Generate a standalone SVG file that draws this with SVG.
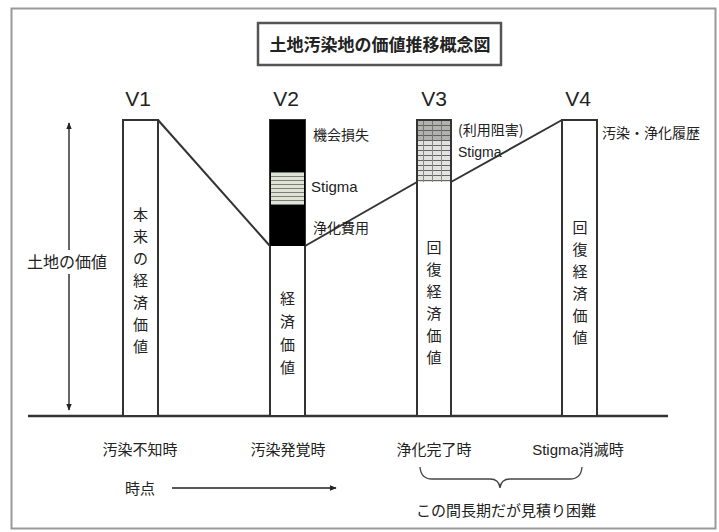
<svg xmlns="http://www.w3.org/2000/svg" width="719" height="532" viewBox="0 0 719 532">
<style>
text{font-family:"Liberation Sans","Noto Sans CJK JP",sans-serif;fill:#222}
.jp{font-family:"Noto Sans CJK JP",sans-serif;font-size:14px}
.v{font-family:"Liberation Sans",sans-serif;font-size:21px}
.vt{font-family:"Noto Sans CJK JP",sans-serif;font-size:15px;text-anchor:middle}
.bar{fill:#fff;stroke:#333;stroke-width:2}
.ln{stroke:#333;stroke-width:2;fill:none}
</style>
<defs>
<pattern id="stig" width="8" height="4" patternUnits="userSpaceOnUse">
<rect width="8" height="4" fill="#dfe3d6"/>
<line x1="0" y1="0.5" x2="8" y2="0.5" stroke="#7a7f78" stroke-width="1"/>
</pattern>
<pattern id="grid" width="9" height="5" patternUnits="userSpaceOnUse">
<rect width="9" height="5" fill="#e2e2e0"/>
<line x1="0" y1="0.5" x2="9" y2="0.5" stroke="#666" stroke-width="1"/>
<line x1="0.5" y1="0" x2="0.5" y2="5" stroke="#888" stroke-width="1"/>
</pattern>
<marker id="ah" viewBox="0 0 10 10" refX="9" refY="5" markerWidth="7" markerHeight="7" orient="auto-start-reverse" markerUnits="userSpaceOnUse">
<path d="M0,1 L10,5 L0,9 z" fill="#222"/>
</marker>
</defs>
<rect x="0" y="0" width="719" height="532" fill="#fff"/>
<rect x="11.5" y="8.5" width="704" height="520" fill="none" stroke="#999" stroke-width="2"/>

<g id="title">
<rect x="258" y="23" width="243" height="42" fill="#fff" stroke="#555" stroke-width="2.5"/>
<text x="380" y="51" class="jp" style="font-size:17px;font-weight:bold;text-anchor:middle">土地汚染地の価値推移概念図</text>
</g>

<g id="axis">
<line x1="28" y1="416" x2="668" y2="416" stroke="#333" stroke-width="2.5"/>
<line x1="69" y1="123" x2="69" y2="410" stroke="#333" stroke-width="1.5" marker-start="url(#ah)" marker-end="url(#ah)"/>
<rect x="22" y="250" width="90" height="24" fill="#fff"/>
<text x="67" y="268" class="jp" style="font-size:16px;text-anchor:middle">土地の価値</text>
<text x="140" y="494" class="jp" style="font-size:15px;text-anchor:middle">時点</text>
<line x1="172" y1="488" x2="336" y2="488" stroke="#222" stroke-width="1.5" marker-end="url(#ah)"/>
</g>

<g id="connectors">
<line class="ln" x1="158" y1="120" x2="270" y2="246"/>
<line class="ln" x1="305" y1="246" x2="417" y2="182"/>
<line class="ln" x1="451" y1="182" x2="562" y2="120"/>
</g>

<g id="v1">
<text x="138" y="106" class="v" text-anchor="middle">V1</text>
<rect class="bar" x="123" y="120" width="35" height="296"/>
<text class="vt" x="140.5" y="220">本</text>
<text class="vt" x="140.5" y="242">来</text>
<text class="vt" x="140.5" y="264">の</text>
<text class="vt" x="140.5" y="286">経</text>
<text class="vt" x="140.5" y="308">済</text>
<text class="vt" x="140.5" y="330">価</text>
<text class="vt" x="140.5" y="352">値</text>
<text x="140" y="455" class="jp" style="font-size:15px;text-anchor:middle">汚染不知時</text>
</g>

<g id="v2">
<text x="286" y="106" class="v" text-anchor="middle">V2</text>
<rect class="bar" x="270" y="120" width="35" height="296"/>
<rect x="270" y="120" width="35" height="126" fill="#000"/>
<rect x="271" y="172" width="33" height="33" fill="url(#stig)"/>
<text x="313" y="140" class="jp">機会損失</text>
<text x="311" y="192" style="font-family:'Liberation Sans',sans-serif;font-size:15px">Stigma</text>
<text x="313" y="233" class="jp">浄化費用</text>
<text class="vt" x="287.5" y="304">経</text>
<text class="vt" x="287.5" y="327">済</text>
<text class="vt" x="287.5" y="350">価</text>
<text class="vt" x="287.5" y="373">値</text>
<text x="288" y="455" class="jp" style="font-size:15px;text-anchor:middle">汚染発覚時</text>
</g>

<g id="v3">
<text x="434" y="106" class="v" text-anchor="middle">V3</text>
<rect class="bar" x="417" y="120" width="34" height="296"/>
<rect x="418" y="121" width="32" height="61" fill="url(#grid)"/>
<rect x="418" y="121" width="32" height="20" fill="#555" opacity="0.35"/>
<text x="458" y="135" class="jp">(利用阻害)</text>
<text x="458" y="157" style="font-family:'Liberation Sans',sans-serif;font-size:14px">Stigma</text>
<text class="vt" x="434" y="253">回</text>
<text class="vt" x="434" y="275">復</text>
<text class="vt" x="434" y="297">経</text>
<text class="vt" x="434" y="319">済</text>
<text class="vt" x="434" y="341">価</text>
<text class="vt" x="434" y="363">値</text>
<text x="434" y="455" class="jp" style="font-size:15px;text-anchor:middle">浄化完了時</text>
</g>

<g id="v4">
<text x="578" y="106" class="v" text-anchor="middle">V4</text>
<rect class="bar" x="562" y="120" width="35" height="296"/>
<text x="602" y="138" class="jp">汚染・浄化履歴</text>
<text class="vt" x="580" y="233">回</text>
<text class="vt" x="580" y="255">復</text>
<text class="vt" x="580" y="277">経</text>
<text class="vt" x="580" y="299">済</text>
<text class="vt" x="580" y="321">価</text>
<text class="vt" x="580" y="343">値</text>
<text x="578" y="455" style="font-family:'Liberation Sans','Noto Sans CJK JP',sans-serif;font-size:15px;text-anchor:middle">Stigma消滅時</text>
</g>

<g id="brace">
<path d="M420,467 Q421,479 432,479 L490,479 Q499,479 500,488 Q501,479 510,479 L570,479 Q581,479 582,467" fill="none" stroke="#444" stroke-width="1.3"/>
<text x="506" y="516" class="jp" style="font-size:15px;text-anchor:middle">この間長期だが見積り困難</text>
</g>
</svg>
